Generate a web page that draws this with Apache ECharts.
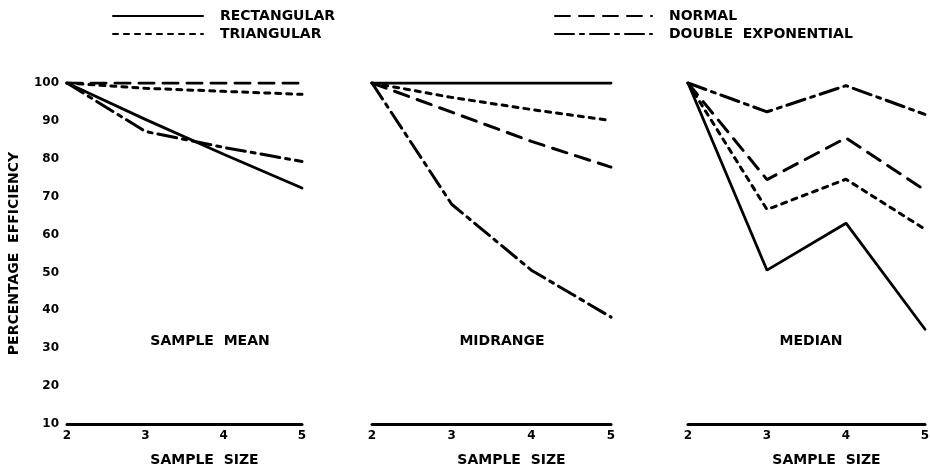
<!DOCTYPE html>
<html>
<head>
<meta charset="utf-8">
<script src="https://cdn.jsdelivr.net/npm/echarts@6/dist/echarts.min.js"></script>
<style>
  html, body { margin: 0; padding: 0; background: #fff; }
  #chart { width: 930px; height: 469px; }
</style>
</head>
<body>
<div id="chart"></div>
<script>
// Efficiency (%) of three location estimators for sample sizes 2..5
const sampleSizes = [2, 3, 4, 5];
const yTicks = [10, 20, 30, 40, 50, 60, 70, 80, 90, 100];

const distributions = ['RECTANGULAR', 'TRIANGULAR', 'NORMAL', 'DOUBLE  EXPONENTIAL'];

// Sample mean
const meanRectangular = [100, 90.4, 81.2, 72.3];
const meanTriangular  = [100, 98.6, 97.8, 97.0];
const meanNormal      = [100, 100, 100, 100];
const meanDoubleExp   = [100, 87.2, 83.0, 79.3];

// Midrange
const midRectangular = [100, 100, 100, 100];
const midTriangular  = [100, 96.2, 93.0, 90.1];
const midNormal      = [100, 92.3, 84.6, 77.8];
const midDoubleExp   = [100, 68.0, 50.6, 38.2];

// Median
const medRectangular = [100, 50.6, 63.0, 35.0];
const medTriangular  = [100, 66.6, 74.6, 61.4];
const medNormal      = [100, 74.5, 85.5, 71.7];
const medDoubleExp   = [100, 92.4, 99.3, 91.7];

const panelTitles = ['SAMPLE  MEAN', 'MIDRANGE', 'MEDIAN'];
const panelData = [
  [meanRectangular, meanTriangular, meanNormal, meanDoubleExp],
  [midRectangular, midTriangular, midNormal, midDoubleExp],
  [medRectangular, medTriangular, medNormal, medDoubleExp]
];

const FONT = 'DejaVu Sans';
const INK = '#000';

// Stroke patterns per distribution
const strokes = [
  { type: 'solid', width: 2.8 },
  { type: [5, 6], width: 3 },
  { type: [15, 9], width: 3 },
  { type: [19, 6, 4, 6], width: 3 }
];

const panels = [
  { left: 67, width: 235, titleX: 205 },
  { left: 372, width: 239, titleX: 497 },
  { left: 688, width: 237, titleX: 806 }
];

const grids = panels.map(p => ({
  left: p.left, width: p.width, top: 83, height: 341,
  containLabel: false, outerBoundsMode: 'none'
}));

const xAxes = panels.map((p, i) => ({
  gridIndex: i,
  type: 'value',
  min: 2, max: 5, interval: 1,
  name: 'SAMPLE  SIZE',
  nameLocation: 'middle',
  nameGap: 29,
  nameTextStyle: { fontFamily: FONT, fontWeight: 'bold', fontSize: 14, color: INK, padding: [0, 0, 0, 40] },
  axisLine: { show: true, lineStyle: { color: INK, width: 3 } },
  axisTick: { show: false },
  splitLine: { show: false },
  axisLabel: { fontFamily: FONT, fontWeight: 'bold', fontSize: 12, color: INK, margin: 6 }
}));

const yAxes = panels.map((p, i) => ({
  gridIndex: i,
  type: 'value',
  min: 10, max: 100, interval: 10,
  show: i === 0,
  name: i === 0 ? 'PERCENTAGE  EFFICIENCY' : '',
  nameLocation: 'middle',
  nameRotate: 90,
  nameGap: 46,
  nameTextStyle: { fontFamily: FONT, fontWeight: 'bold', fontSize: 14, color: INK },
  axisLine: { show: false },
  axisTick: { show: false },
  splitLine: { show: false },
  axisLabel: {
    fontFamily: FONT, fontWeight: 'bold', fontSize: 12, color: INK, margin: 8,
    formatter: v => (yTicks.includes(v) ? String(v) : '')
  }
}));

const series = [];
panelData.forEach((rows, pi) => {
  rows.forEach((vals, di) => {
    series.push({
      name: distributions[di],
      type: 'line',
      xAxisIndex: pi,
      yAxisIndex: pi,
      data: sampleSizes.map((s, k) => [s, vals[k]]),
      symbol: 'none',
      silent: true,
      lineStyle: { color: INK, width: strokes[di].width, type: strokes[di].type, cap: 'round' },
      itemStyle: { color: INK }
    });
  });
});

const legendText = { fontFamily: FONT, fontWeight: 'bold', fontSize: 14, color: INK, padding: [0, 0, 0, 12] };
// Legend keys show only the stroke pattern, no marker
const legendItemStyle = { color: 'rgba(0,0,0,0)', borderWidth: 0, opacity: 0 };

const option = {
  animation: false,
  backgroundColor: '#fff',
  grid: grids,
  xAxis: xAxes,
  yAxis: yAxes,
  title: panels.map((p, i) => ({
    text: panelTitles[i],
    left: p.titleX,
    top: 329,
    textAlign: 'center',
    textStyle: { fontFamily: FONT, fontWeight: 'bold', fontSize: 14, color: INK }
  })),
  legend: [
    {
      data: distributions.slice(0, 2),
      left: 107, top: 4, orient: 'vertical',
      itemWidth: 90, itemHeight: 10, itemGap: 4,
      selectedMode: false,
      itemStyle: legendItemStyle,
      textStyle: legendText
    },
    {
      data: distributions.slice(2, 4),
      left: 549, top: 4, orient: 'vertical',
      itemWidth: 97, itemHeight: 10, itemGap: 4,
      selectedMode: false,
      itemStyle: legendItemStyle,
      textStyle: legendText
    }
  ],
  series: series
};

const chart = echarts.init(document.getElementById('chart'), null, { renderer: 'canvas' });
chart.setOption(option);
</script>
</body>
</html>
